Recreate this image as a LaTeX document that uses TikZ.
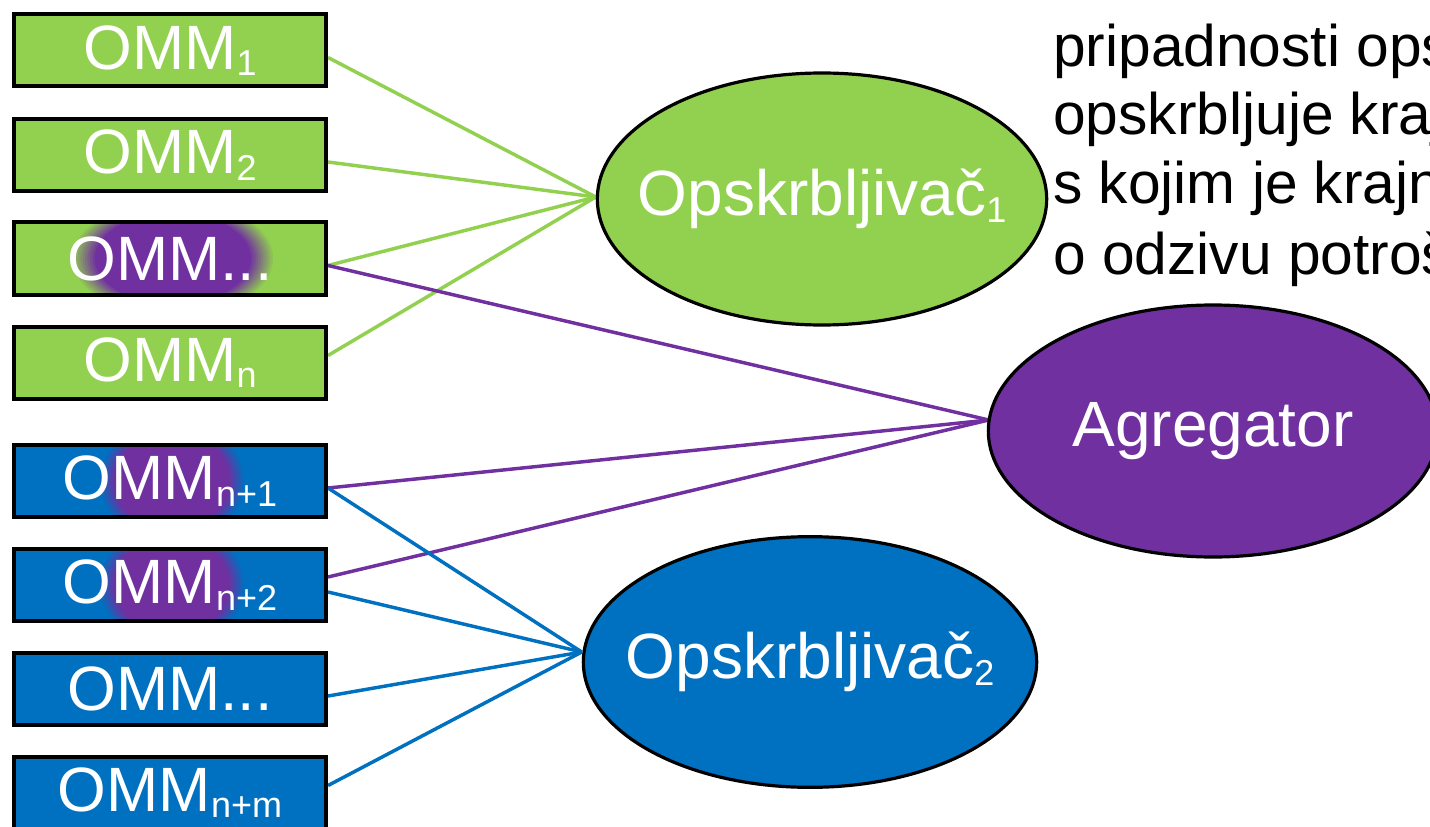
\documentclass[tikz,border=0pt]{standalone}
\usepackage{fontspec}
\setmainfont{Liberation Sans}
\usetikzlibrary{shapes.geometric,calc,backgrounds}
\definecolor{omgreen}{HTML}{92D050}
\definecolor{ompurple}{HTML}{7030A0}
\definecolor{omblue}{HTML}{0070C0}
\newcommand{\omsub}[1]{\raisebox{-5pt}{\fontsize{27}{27}\selectfont #1}}
\tikzset{
  x=0.75pt, y=-0.75pt,
  omm/.style={draw=black, line width=3pt, minimum width=234pt, minimum height=54pt,
    inner sep=0pt, text=white, font=\fontsize{47}{50}\selectfont},
  gbox/.style={omm, fill=omgreen},
  bbox/.style={omm, fill=omblue},
  supp/.style={ellipse, draw=black, line width=2.4pt, inner xsep=-40pt, inner ysep=0pt, text=white,
    font=\fontsize{48}{50}\selectfont},
  gline/.style={draw=omgreen, line width=2.6pt},
  pline/.style={draw=ompurple, line width=2.6pt},
  bline/.style={draw=omblue, line width=2.6pt},
  bodytext/.style={anchor=base west, inner sep=0pt, font=\fontsize{44}{50}\selectfont},
  gblob/.style={path picture={
    \foreach \k [evaluate=\k as \p using int(10*\k+10)] in {0,...,9}
      \fill[ompurple!\p!omgreen] ([xshift=2.25pt]path picture bounding box.center)
        ellipse [x radius={75pt-\k*1.8pt}, y radius={(75pt-\k*1.8pt)*0.58}];}},
  bblob/.style={path picture={
    \foreach \k [evaluate=\k as \p using int(10*\k+10)] in {0,...,9}
      \fill[ompurple!\p!omblue] ([xshift=1.5pt]path picture bounding box.center)
        ellipse [x radius={54pt-\k*1.2pt}, y radius={(54pt-\k*1.2pt)*0.85}];}}
}
\begin{document}
\begin{tikzpicture}
\useasboundingbox (0,0) rectangle (1430,827);
\clip (0,0) rectangle (1430,827);

% body text
\node[bodytext] (t1) at (1053,67) {pripadnosti opskrbljivaču};
\node[bodytext] (t2) at (1053,135) {opskrbljuje krajnjeg};
\node[bodytext] (t3) at (1053,204) {s kojim je krajnji};
\node[bodytext] (t4) at (1053,274) {o odzivu potrošnje};

% boxes
\node[gbox] (b1) at (170,50.5) {OMM\omsub{1}};
\node[gbox] (b2) at (170,155) {OMM\omsub{2}};
\node[gbox, gblob] (b3) at (170,258.5) {OMM...};
\node[gbox] (b4) at (170,362.5) {OMM\omsub{n}};
\node[bbox, bblob] (b5) at (170,481) {OMM\omsub{n+1}};
\node[bbox, bblob] (b6) at (170,585) {OMM\omsub{n+2}};
\node[bbox] (b7) at (170,689) {OMM...};
\node[bbox] (b8) at (170,792.5) {OMM\omsub{n+m}};

% ellipses
\node[supp, fill=omgreen, minimum width=337pt, minimum height=189pt] (o1) at (822,199) {Opskrbljivač\omsub{1}};
\node[supp, fill=ompurple, minimum width=337pt, minimum height=189pt] (ag) at (1213,431) {Agregator};
\node[supp, fill=omblue, minimum width=340pt, minimum height=188pt] (o2) at (810,662) {Opskrbljivač\omsub{2}};

\coordinate (agin) at ($(ag.west)+(2,-11)$);
\coordinate (o2in) at ($(o2.west)+(0,-10)$);
\coordinate (o1in) at ($(o1.west)+(0,-2)$);

\begin{pgfonlayer}{background}
\draw[gline] ($(b1.east)+(0,7)$) -- (o1in);
\draw[gline] ($(b2.east)+(0,7)$) -- (o1in);
\draw[gline] ($(b3.east)+(0,7)$) -- (o1in);
\draw[gline] ($(b4.east)+(0,-7)$) -- (o1in);
\draw[pline] ($(b3.east)+(0,7)$) -- (agin);
\draw[pline] ($(b5.east)+(0,7)$) -- (agin);
\draw[pline] ($(b6.east)+(0,-8)$) -- (agin);
\draw[bline] ($(b5.east)+(0,7)$) -- (o2in);
\draw[bline] ($(b6.east)+(0,7)$) -- (o2in);
\draw[bline] ($(b7.east)+(0,7)$) -- (o2in);
\draw[bline] ($(b8.east)+(0,-7)$) -- (o2in);
\end{pgfonlayer}
\end{tikzpicture}
\end{document}
